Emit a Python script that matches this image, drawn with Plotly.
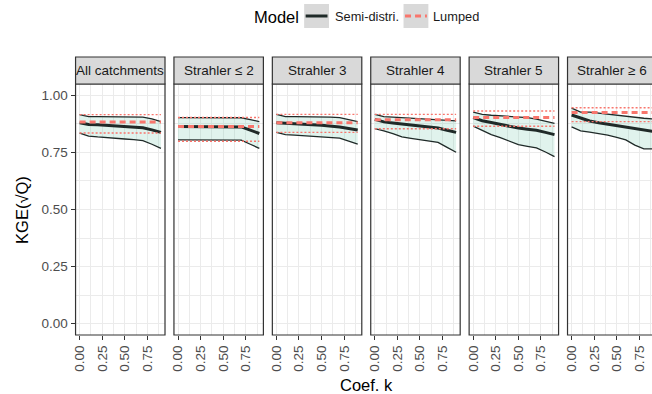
import plotly.graph_objects as go

# ---------------- data ----------------
panels = ["All catchments", "Strahler \u2264 2", "Strahler 3", "Strahler 4", "Strahler 5", "Strahler \u2265 6"]
coef_k = [0.0, 0.1, 0.2, 0.3, 0.4, 0.5, 0.6, 0.7, 0.8, 0.9]

semi_upper = [
    [0.916, 0.907, 0.907, 0.907, 0.907, 0.907, 0.906, 0.905, 0.897, 0.885],
    [0.903, 0.903, 0.903, 0.903, 0.903, 0.903, 0.903, 0.902, 0.894, 0.885],
    [0.917, 0.907, 0.907, 0.907, 0.907, 0.906, 0.905, 0.903, 0.894, 0.885],
    [0.917, 0.907, 0.905, 0.903, 0.901, 0.899, 0.897, 0.894, 0.891, 0.888],
    [0.927, 0.917, 0.913, 0.910, 0.907, 0.905, 0.903, 0.896, 0.887, 0.877],
    [0.944, 0.927, 0.927, 0.922, 0.917, 0.913, 0.909, 0.904, 0.900, 0.897],
]
semi_median = [
    [0.880, 0.873, 0.871, 0.869, 0.866, 0.864, 0.862, 0.858, 0.849, 0.838],
    [0.864, 0.864, 0.864, 0.864, 0.864, 0.864, 0.864, 0.862, 0.848, 0.833],
    [0.880, 0.877, 0.875, 0.873, 0.871, 0.869, 0.866, 0.862, 0.855, 0.848],
    [0.895, 0.884, 0.879, 0.874, 0.869, 0.865, 0.861, 0.857, 0.847, 0.838],
    [0.903, 0.889, 0.881, 0.873, 0.862, 0.857, 0.852, 0.847, 0.838, 0.828],
    [0.914, 0.900, 0.888, 0.880, 0.874, 0.867, 0.859, 0.854, 0.848, 0.842],
]
semi_lower = [
    [0.835, 0.822, 0.818, 0.814, 0.811, 0.809, 0.806, 0.802, 0.786, 0.768],
    [0.805, 0.805, 0.805, 0.805, 0.805, 0.805, 0.805, 0.804, 0.786, 0.768],
    [0.838, 0.828, 0.826, 0.823, 0.820, 0.818, 0.816, 0.813, 0.800, 0.787],
    [0.854, 0.845, 0.832, 0.818, 0.812, 0.806, 0.800, 0.794, 0.772, 0.751],
    [0.865, 0.845, 0.828, 0.815, 0.800, 0.784, 0.777, 0.770, 0.752, 0.732],
    [0.862, 0.845, 0.839, 0.834, 0.826, 0.816, 0.805, 0.782, 0.766, 0.766],
]
lumped_upper = [0.916, 0.903, 0.917, 0.917, 0.932, 0.946]
lumped_median = [0.884, 0.864, 0.880, 0.893, 0.903, 0.925]
lumped_lower = [0.835, 0.799, 0.838, 0.854, 0.865, 0.885]

x_ticks = [0.0, 0.25, 0.5, 0.75]
x_tick_labels = ["0.00", "0.25", "0.50", "0.75"]
y_ticks = [0.0, 0.25, 0.5, 0.75, 1.0]
y_tick_labels = ["0.00", "0.25", "0.50", "0.75", "1.00"]

# ---------------- layout geometry (pixels) ----------------
W, H = 652, 394
FONT = "Liberation Sans, Arial, Helvetica, sans-serif"
panel_left = [72, 171, 270, 369, 468, 567]
panel_w = 90
panel_top, panel_bot = 84, 335
strip_top = 57
x_range_full = [-0.045, 0.945]

RED = "#F8766D"
DARK = "#1f2a28"
RIBBON = "rgba(102,194,165,0.2)"
GRID = "#ebebeb"
TICK_SIZE = 13.5


def fx(p):
    return p / W


def fy(p):
    return 1 - p / H


fig = go.Figure()
layout = dict(
    width=W, height=H,
    margin=dict(l=0, r=0, t=0, b=0),
    paper_bgcolor="white", plot_bgcolor="white",
    showlegend=False,
    font=dict(family=FONT),
)
shapes = []
annotations = []

for i, name in enumerate(panels):
    sfx = "" if i == 0 else str(i + 1)
    xa, ya = "x" + sfx, "y" + sfx
    left = panel_left[i]
    right = left + panel_w
    vis_right = min(right, W)
    span = x_range_full[1] - x_range_full[0]
    xr = [x_range_full[0], x_range_full[0] + span * (vis_right - left) / panel_w]

    layout["xaxis" + sfx] = dict(
        domain=[fx(left), fx(vis_right)], anchor=ya, range=xr,
        tickvals=x_ticks, ticktext=x_tick_labels, tickangle=-90,
        ticks="outside", ticklen=4, tickwidth=1, tickcolor="#333333",
        tickfont=dict(size=TICK_SIZE, color="#4d4d4d", family=FONT),
        showgrid=True, gridcolor=GRID, gridwidth=1,
        minor=dict(tickvals=[0.125, 0.375, 0.625, 0.875], showgrid=True,
                   gridcolor=GRID, gridwidth=0.6, ticks=""),
        showline=False, zeroline=False, fixedrange=True,
    )
    layout["yaxis" + sfx] = dict(
        domain=[fy(panel_bot), fy(panel_top)], anchor=xa, range=[-0.05, 1.05],
        tickvals=y_ticks, ticktext=y_tick_labels,
        ticks="outside" if i == 0 else "", ticklen=4, tickwidth=1, tickcolor="#333333",
        showticklabels=(i == 0),
        tickfont=dict(size=TICK_SIZE, color="#4d4d4d", family=FONT),
        showgrid=True, gridcolor=GRID, gridwidth=1,
        minor=dict(tickvals=[0.125, 0.375, 0.625, 0.875], showgrid=True,
                   gridcolor=GRID, gridwidth=0.6, ticks=""),
        showline=False, zeroline=False, fixedrange=True,
    )

    # ribbon (semi-distributed)
    fig.add_trace(go.Scatter(
        x=coef_k + coef_k[::-1], y=semi_upper[i] + semi_lower[i][::-1],
        fill="toself", fillcolor=RIBBON, line=dict(width=0), mode="lines",
        hoverinfo="skip", xaxis=xa, yaxis=ya))
    for ys in (semi_upper[i], semi_lower[i]):
        fig.add_trace(go.Scatter(x=coef_k, y=ys, mode="lines",
                                 line=dict(color=DARK, width=1.3), xaxis=xa, yaxis=ya))
    fig.add_trace(go.Scatter(x=coef_k, y=semi_median[i], mode="lines",
                             line=dict(color=DARK, width=3), xaxis=xa, yaxis=ya))
    # lumped (constant over k)
    for v in (lumped_upper[i], lumped_lower[i]):
        fig.add_trace(go.Scatter(x=coef_k, y=[v] * len(coef_k), mode="lines",
                                 line=dict(color=RED, width=1.4, dash="2px,2px"),
                                 xaxis=xa, yaxis=ya))
    fig.add_trace(go.Scatter(x=coef_k, y=[lumped_median[i]] * len(coef_k), mode="lines",
                             line=dict(color=RED, width=3, dash="6px,4px"),
                             xaxis=xa, yaxis=ya))

    # panel border
    shapes.append(dict(type="rect", xref="paper", yref="paper",
                       x0=fx(left), x1=fx(right), y0=fy(panel_bot), y1=fy(panel_top),
                       line=dict(color="#333333", width=1.2), fillcolor="rgba(0,0,0,0)",
                       layer="above"))
    # strip
    shapes.append(dict(type="rect", xref="paper", yref="paper",
                       x0=fx(left), x1=fx(right), y0=fy(panel_top), y1=fy(strip_top),
                       line=dict(color="#333333", width=1.2), fillcolor="#d9d9d9",
                       layer="above"))
    annotations.append(dict(text=name, xref="paper", yref="paper",
                            x=fx(left + panel_w / 2), y=fy((strip_top + panel_top) / 2),
                            xanchor="center", yanchor="middle", showarrow=False,
                            font=dict(size=TICK_SIZE, color="#1a1a1a", family=FONT)))

# axis titles
annotations.append(dict(text="Coef. k", xref="paper", yref="paper",
                        x=fx(365), y=fy(385), xanchor="center", yanchor="middle",
                        showarrow=False, font=dict(size=16.5, color="black", family=FONT)))
annotations.append(dict(text="KGE(\u221aQ)", xref="paper", yref="paper",
                        x=fx(18), y=fy(210), xanchor="center", yanchor="middle",
                        textangle=-90, showarrow=False,
                        font=dict(size=16.5, color="black", family=FONT)))

# legend (drawn manually)
annotations.append(dict(text="Model", xref="paper", yref="paper",
                        x=fx(250), y=fy(17), xanchor="left", yanchor="middle",
                        showarrow=False, font=dict(size=16.5, color="black", family=FONT)))
for kx, label, col, dash, tx in [(302, "Semi-distri.", DARK, "solid", 331),
                                 (402, "Lumped", RED, "6px,4px", 430)]:
    shapes.append(dict(type="rect", xref="paper", yref="paper",
                       x0=fx(kx), x1=fx(kx + 25), y0=fy(28), y1=fy(4),
                       line=dict(width=0), fillcolor="#d9d9d9", layer="above"))
    shapes.append(dict(type="line", xref="paper", yref="paper",
                       x0=fx(kx + 1.5), x1=fx(kx + 23.5), y0=fy(16), y1=fy(16),
                       line=dict(color=col, width=3, dash=dash), layer="above"))
    annotations.append(dict(text=label, xref="paper", yref="paper",
                            x=fx(tx), y=fy(16), xanchor="left", yanchor="middle",
                            showarrow=False, font=dict(size=12.8, color="#1a1a1a", family=FONT)))

layout["shapes"] = shapes
layout["annotations"] = annotations
fig.update_layout(**layout)
fig.write_html("out.html", config={"displayModeBar": False},
               post_script="document.body.style.margin='0px';document.body.style.overflow='hidden';")
